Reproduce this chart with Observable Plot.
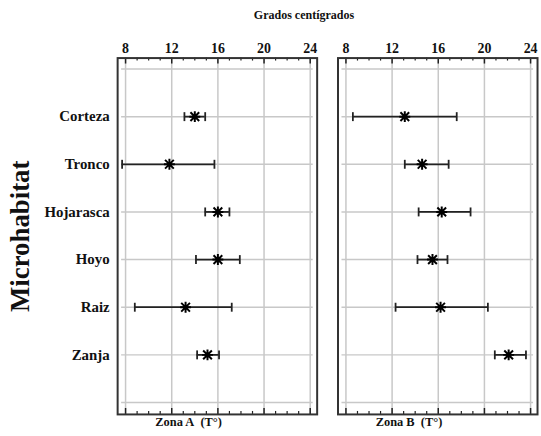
<!DOCTYPE html>
<html><head><meta charset="utf-8">
<script src="https://cdn.jsdelivr.net/npm/d3@7"></script>
<script src="https://cdn.jsdelivr.net/npm/@observablehq/plot@0.6"></script>
<style>
body{margin:0;background:#fff;}
#wrap{position:relative;width:541px;height:436px;overflow:hidden;font-family:"Liberation Serif","Times New Roman",serif;}
#title{position:absolute;top:8px;left:204px;width:200px;text-align:center;font-weight:bold;font-size:12px;color:#111;}
#chart{position:absolute;top:0;left:0;}
</style></head>
<body><div id="wrap"><div id="chart"></div><div id="title">Grados centígrados</div></div>
<script>
const categories = ["Corteza", "Tronco", "Hojarasca", "Hoyo", "Raiz", "Zanja"];
const zonas = ["Zona A\u00a0\u00a0(T°)", "Zona B\u00a0\u00a0(T°)"];
// Zona A
const meanA = [14.0, 11.8, 16.0, 16.0, 13.2, 15.1];
const lowA  = [13.1, 7.7, 14.9, 14.1, 8.8, 14.2];
const highA = [14.9, 15.7, 17.0, 17.9, 17.2, 16.1];
// Zona B
const meanB = [13.1, 14.6, 16.3, 15.5, 16.2, 22.1];
const lowB  = [8.6, 13.1, 14.3, 14.2, 12.3, 20.9];
const highB = [17.6, 16.9, 18.8, 16.8, 20.3, 23.6];
const xTicks = [8, 12, 16, 20, 24];
const xMinorTicks = [9, 10, 11, 13, 14, 15, 17, 18, 19, 21, 22, 23];
const yDomain = [" ", ...categories, "  "];

const means = [meanA, meanB], lows = [lowA, lowB], highs = [highA, highB];
const rows = [];
zonas.forEach((z, zi) => categories.forEach((c, i) =>
  rows.push({zona: z, cat: c, mean: means[zi][i], low: lows[zi][i], high: highs[zi][i]})));

const capSymbol = {draw(ctx, size) { const h = Math.sqrt(size / Math.PI); ctx.moveTo(0, -h); ctx.lineTo(0, h); }};
const starSymbol = {draw(ctx, size) {
  const r = Math.sqrt(size / Math.PI), d = r * 0.8;
  ctx.moveTo(-d, -d); ctx.lineTo(d, d);
  ctx.moveTo(-d, d); ctx.lineTo(d, -d);
  ctx.moveTo(0, -r); ctx.lineTo(0, r);
  ctx.moveTo(-r, 0); ctx.lineTo(r, 0);
}};

const frameH = 436 - 58 - 19;
const chart = Plot.plot({
  width: 545, height: 436,
  marginTop: 58, marginBottom: 19, marginLeft: 118, marginRight: 3,
  style: {fontFamily: '"Liberation Serif","Times New Roman",serif', color: "#111", background: "white"},
  x: {domain: [8, 24], insetLeft: 8, insetRight: 7},
  y: {type: "point", domain: yDomain, padding: 0, insetTop: 10, insetBottom: 11},
  fx: {domain: zonas, paddingInner: 0.094, paddingOuter: 0},
  marks: [
    Plot.gridX(xTicks, {stroke: "#c8c8c8", strokeOpacity: 1, strokeWidth: 1.5}),
    Plot.gridY(yDomain, {stroke: "#c8c8c8", strokeOpacity: 1, strokeWidth: 1.5, insetLeft: 4, insetRight: 4}),
    Plot.tickX(xTicks, {x: d => d, insetBottom: frameH - 6, stroke: "#222", strokeWidth: 1.5}),
    Plot.tickX(xMinorTicks, {x: d => d, insetBottom: frameH - 3, stroke: "#222", strokeWidth: 1.2}),
    Plot.tickX(xTicks, {x: d => d, insetTop: frameH - 6, stroke: "#222", strokeWidth: 1.5}),
    Plot.tickX(xMinorTicks, {x: d => d, insetTop: frameH - 3, stroke: "#222", strokeWidth: 1.2}),
    Plot.frame({stroke: "#333", strokeWidth: 2}),
    Plot.axisX(xTicks, {anchor: "top", tickSize: 0, tickPadding: 5, fontSize: 14, fontWeight: "bold", label: null}),
    Plot.axisY({tickSize: 0, tickPadding: 8, fontSize: 15, fontWeight: "bold", tickFormat: d => categories.includes(d) ? d : "", label: null}),
    Plot.axisY({ticks: [], label: "Microhabitat", labelAnchor: "center", labelArrow: "none", labelOffset: 108, fontSize: 27, fontWeight: "bold", dy: -6}),
    Plot.axisFx({anchor: "bottom", tickSize: 0, tickPadding: 3, fontSize: 12.5, fontWeight: "bold", dx: -29, label: null}),
    Plot.ruleY(rows, {fx: "zona", y: "cat", x1: "low", x2: "high", stroke: "#222", strokeWidth: 1.8}),
    Plot.dot(rows, {fx: "zona", y: "cat", x: "low", symbol: capSymbol, r: 4.5, stroke: "#222", strokeWidth: 1.8}),
    Plot.dot(rows, {fx: "zona", y: "cat", x: "high", symbol: capSymbol, r: 4.5, stroke: "#222", strokeWidth: 1.8}),
    Plot.dot(rows, {fx: "zona", y: "cat", x: "mean", symbol: starSymbol, r: 5.5, stroke: "#000", strokeWidth: 2})
  ]
});
document.getElementById("chart").appendChild(chart);
</script>
</body></html>
